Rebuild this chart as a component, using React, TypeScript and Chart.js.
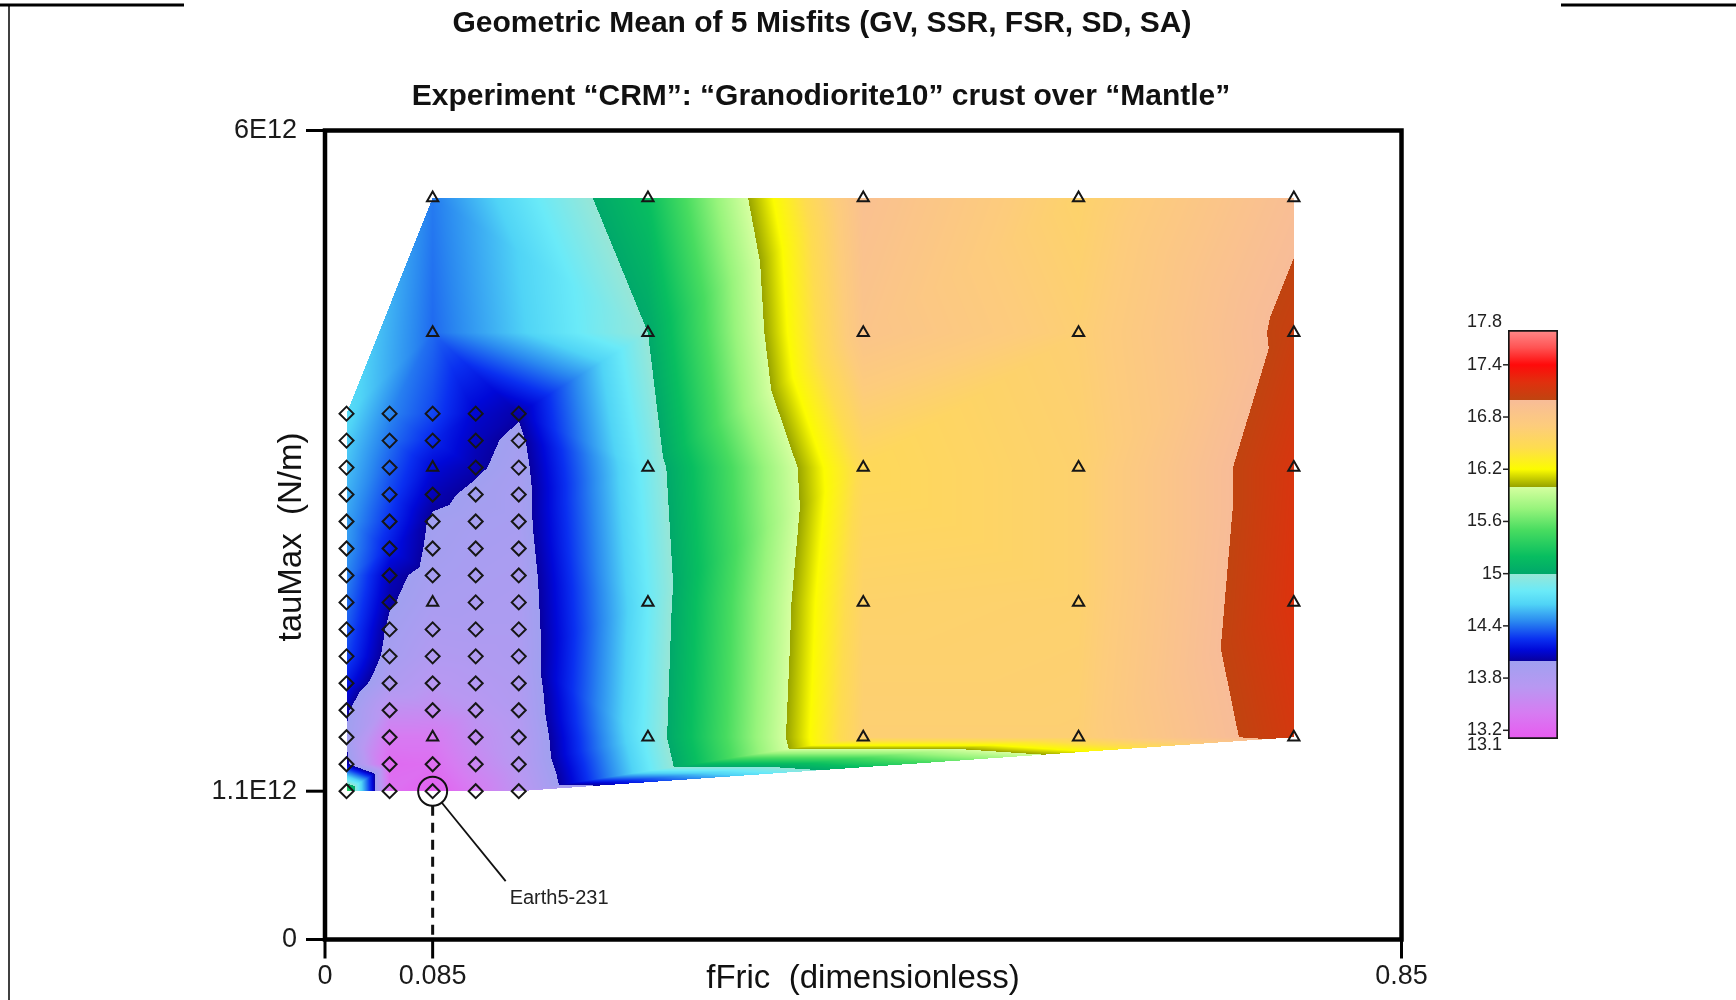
import React, { useEffect, useRef } from "react";
import { Chart, registerables } from "chart.js";

Chart.register(...registerables);

// ---------------- text ----------------
const TITLE = "Geometric Mean of 5 Misfits (GV, SSR, FSR, SD, SA)";
const SUBTITLE = "Experiment \u201CCRM\u201D: \u201CGranodiorite10\u201D crust over \u201CMantle\u201D";
const X_TITLE = "fFric  (dimensionless)";
const Y_TITLE = "tauMax  (N/m)";
const BEST_LABEL = "Earth5-231";

// ---------------- data ----------------
// fine grid (diamonds)
const fineFric = [0.017, 0.051, 0.085, 0.119, 0.153];
const fineTau = [3.9e12, 3.7e12, 3.5e12, 3.3e12, 3.1e12, 2.9e12, 2.7e12, 2.5e12, 2.3e12, 2.1e12, 1.9e12, 1.7e12, 1.5e12, 1.3e12, 1.1e12];
const fineMisfit = [
  [14.7, 14.45, 14.3, 14.1, 14.02],
  [14.64, 14.4, 14.22, 14.06, 13.95],
  [14.6, 14.35, 14.12, 14.03, 13.92],
  [14.56, 14.3, 14.05, 13.96, 13.9],
  [14.52, 14.25, 13.97, 13.92, 13.9],
  [14.5, 14.18, 13.95, 13.9, 13.88],
  [14.45, 14.06, 13.92, 13.88, 13.86],
  [14.4, 14.02, 13.88, 13.86, 13.85],
  [14.35, 13.96, 13.83, 13.84, 13.84],
  [14.3, 13.92, 13.78, 13.8, 13.83],
  [14.18, 13.82, 13.7, 13.75, 13.8],
  [14.03, 13.6, 13.58, 13.68, 13.78],
  [13.98, 13.38, 13.38, 13.6, 13.74],
  [14.05, 13.25, 13.28, 13.52, 13.72],
  [15.4, 13.3, 13.15, 13.4, 13.65],
];
// coarse grid (triangles)
const coarseFric = [0.085, 0.255, 0.425, 0.595, 0.765];
const coarseTau = [5.5e12, 4.5e12, 3.5e12, 2.5e12, 1.5e12];
const coarseMisfit = [
  [14.42, 15.2, 16.92, 16.6, 16.96],
  [14.38, 15.0, 16.85, 16.65, 17.05],
  [14.12, 14.86, 16.5, 16.62, 17.15],
  [13.88, 14.8, 16.6, 16.62, 17.18],
  [13.38, 14.84, 16.65, 16.65, 17.12],
];

const bestFric = 0.085;
const bestTau = 1.1e12;

// axes
const xMin = 0, xMax = 0.85;
const yMin = 0, yMax = 6e12;
const xTicks = [0, 0.085, 0.85];
const xTickLabels = ["0", "0.085", "0.85"];
const yTicks = [0, 1.1e12, 6e12];
const yTickLabels = ["0", "1.1E12", "6E12"];

// colour scale
const cbMin = 13.1, cbMax = 17.8;
const cbTicks = [17.8, 17.4, 16.8, 16.2, 15.6, 15, 14.4, 13.8, 13.2, 13.1];
const cbTickLabels = ["17.8", "17.4", "16.8", "16.2", "15.6", "15", "14.4", "13.8", "13.2", "13.1"];
const bandStops: [number, string][][] = [
  [[13.1, "#e85af0"], [13.4, "#d67cf2"], [13.7, "#b898f2"], [14.0, "#a0a0f0"]],
  [[14.0, "#0800a0"], [14.12, "#0008d8"], [14.25, "#0a30f0"], [14.45, "#2a88f0"], [14.65, "#50d4f6"], [14.8, "#6aeaf8"], [15.0, "#98e6d6"]],
  [[15.0, "#00a86a"], [15.2, "#08be60"], [15.5, "#48dc60"], [15.75, "#98f47c"], [16.0, "#d6ffa0"]],
  [[16.0, "#98a400"], [16.2, "#fcfc00"], [16.45, "#fedc50"], [16.7, "#fdcc7c"], [17.0, "#f8bc98"]],
  [[17.0, "#c04410"], [17.2, "#e0300e"], [17.4, "#ff0a0a"], [17.6, "#ff5454"], [17.8, "#ff8a8a"]],
];

const FONT = '"Liberation Sans", Arial, Helvetica, sans-serif';

// ---------------- helpers ----------------
function hexRgb(h: string): number[] {
  return [parseInt(h.slice(1, 3), 16), parseInt(h.slice(3, 5), 16), parseInt(h.slice(5, 7), 16)];
}
const parsedBands = bandStops.map((b) => b.map(([v, c]) => ({ v, rgb: hexRgb(c) })));

function colorFor(v: number): number[] {
  let bi = 0;
  for (let i = 0; i < parsedBands.length; i++) {
    const b = parsedBands[i];
    if (v >= b[0].v) bi = i;
  }
  const band = parsedBands[bi];
  if (v <= band[0].v) return band[0].rgb;
  if (v >= band[band.length - 1].v) return band[band.length - 1].rgb;
  for (let i = 0; i < band.length - 1; i++) {
    const a = band[i], b = band[i + 1];
    if (v >= a.v && v <= b.v) {
      const t = (v - a.v) / (b.v - a.v);
      return [0, 1, 2].map((k) => a.rgb[k] + (b.rgb[k] - a.rgb[k]) * t);
    }
  }
  return band[band.length - 1].rgb;
}

type Pt = { x: number; y: number; v: number };

function allFieldPoints(): Pt[] {
  const pts: Pt[] = [];
  fineTau.forEach((t, r) => fineFric.forEach((f, c) => pts.push({ x: f, y: t, v: fineMisfit[r][c] })));
  coarseTau.forEach((t, r) =>
    coarseFric.forEach((f, c) => {
      const dup = pts.some((p) => Math.abs(p.x - f) < 1e-9 && Math.abs(p.y - t) < 1e3);
      if (!dup) pts.push({ x: f, y: t, v: coarseMisfit[r][c] });
    })
  );
  return pts;
}

function isCoarse(f: number, t: number) {
  return coarseFric.some((cf) => Math.abs(cf - f) < 1e-9) && coarseTau.some((ct) => Math.abs(ct - t) < 1e3);
}

function triangulate(pts: number[][]): number[][] {
  const n = pts.length;
  let minX = Infinity, minY = Infinity, maxX = -Infinity, maxY = -Infinity;
  pts.forEach(([x, y]) => {
    minX = Math.min(minX, x); maxX = Math.max(maxX, x);
    minY = Math.min(minY, y); maxY = Math.max(maxY, y);
  });
  const dm = Math.max(maxX - minX, maxY - minY);
  const mx = (minX + maxX) / 2, my = (minY + maxY) / 2;
  const P = pts.slice();
  P.push([mx - 50 * dm, my - 30 * dm], [mx, my + 50 * dm], [mx + 50 * dm, my - 30 * dm]);
  const mk = (a: number, b: number, c: number) => {
    const [ax, ay] = P[a], [bx, by] = P[b], [cx, cy] = P[c];
    const d = 2 * (ax * (by - cy) + bx * (cy - ay) + cx * (ay - by));
    const a2 = ax * ax + ay * ay, b2 = bx * bx + by * by, c2 = cx * cx + cy * cy;
    const ux = (a2 * (by - cy) + b2 * (cy - ay) + c2 * (ay - by)) / d;
    const uy = (a2 * (cx - bx) + b2 * (ax - cx) + c2 * (bx - ax)) / d;
    return { a, b, c, cx: ux, cy: uy, r2: (ax - ux) ** 2 + (ay - uy) ** 2 };
  };
  let tris = [mk(n, n + 1, n + 2)];
  for (let i = 0; i < n; i++) {
    const [px, py] = P[i];
    const bad: any[] = [], keep: any[] = [];
    for (const t of tris) {
      const dx = px - t.cx, dy = py - t.cy;
      (dx * dx + dy * dy < t.r2 ? bad : keep).push(t);
    }
    const edges = new Map<string, [number, number]>();
    for (const t of bad) {
      for (const [u, w] of [[t.a, t.b], [t.b, t.c], [t.c, t.a]]) {
        const key = u < w ? u + "," + w : w + "," + u;
        if (edges.has(key)) edges.delete(key);
        else edges.set(key, [u, w]);
      }
    }
    tris = keep;
    edges.forEach(([u, w]) => tris.push(mk(u, w, i)));
  }
  return tris.filter((t) => t.a < n && t.b < n && t.c < n).map((t) => [t.a, t.b, t.c]);
}

// ---------------- plugins ----------------
const fieldPlugin = {
  id: "misfitField",
  beforeDatasetsDraw(chart: any) {
    const { ctx, scales } = chart;
    const xs = scales.x, ys = scales.y;
    const pts = allFieldPoints();
    const pix = pts.map((p) => [xs.getPixelForValue(p.x), ys.getPixelForValue(p.y)]);
    // tiny deterministic offsets only to break co-circular ties in the triangulation
    const triPts = pix.map(([x, y], i) => [x + (((i * 37) % 11) - 5) * 1e-3, y + (((i * 53) % 13) - 6) * 1e-3]);
    const tris = triangulate(triPts);
    let x0 = Infinity, y0 = Infinity, x1 = -Infinity, y1 = -Infinity;
    pix.forEach(([x, y]) => {
      x0 = Math.min(x0, x); x1 = Math.max(x1, x);
      y0 = Math.min(y0, y); y1 = Math.max(y1, y);
    });
    const bx = Math.floor(x0) - 1, by = Math.floor(y0) - 1;
    const W = Math.ceil(x1) - bx + 2, H = Math.ceil(y1) - by + 2;
    const img = ctx.createImageData(W, H);
    const data = img.data;
    for (const [ia, ib, ic] of tris) {
      const [ax, ay] = pix[ia], [bX, bY] = pix[ib], [cX, cY] = pix[ic];
      const va = pts[ia].v, vb = pts[ib].v, vc = pts[ic].v;
      const det = (bY - cY) * (ax - cX) + (cX - bX) * (ay - cY);
      if (Math.abs(det) < 1e-9) continue;
      const minx = Math.floor(Math.min(ax, bX, cX)), maxx = Math.ceil(Math.max(ax, bX, cX));
      const miny = Math.floor(Math.min(ay, bY, cY)), maxy = Math.ceil(Math.max(ay, bY, cY));
      for (let yy = miny; yy <= maxy; yy++) {
        const sy = yy + 0.5;
        for (let xx = minx; xx <= maxx; xx++) {
          const sx = xx + 0.5;
          const l1 = ((bY - cY) * (sx - cX) + (cX - bX) * (sy - cY)) / det;
          const l2 = ((cY - ay) * (sx - cX) + (ax - cX) * (sy - cY)) / det;
          const l3 = 1 - l1 - l2;
          if (l1 < -1e-6 || l2 < -1e-6 || l3 < -1e-6) continue;
          const v = l1 * va + l2 * vb + l3 * vc;
          const col = colorFor(v);
          const px = xx - bx, py = yy - by;
          if (px < 0 || py < 0 || px >= W || py >= H) continue;
          const o = (py * W + px) * 4;
          data[o] = col[0]; data[o + 1] = col[1]; data[o + 2] = col[2]; data[o + 3] = 255;
        }
      }
    }
    const off = document.createElement("canvas");
    off.width = W; off.height = H;
    off.getContext("2d")!.putImageData(img, 0, 0);
    ctx.drawImage(off, bx, by);
  },
};

const decorPlugin = {
  id: "decor",
  afterDraw(chart: any) {
    const { ctx, chartArea: a, scales } = chart;
    const xs = scales.x, ys = scales.y;
    const line = (x1: number, y1: number, x2: number, y2: number) => {
      ctx.beginPath(); ctx.moveTo(x1, y1); ctx.lineTo(x2, y2); ctx.stroke();
    };
    ctx.save();
    // page border bits
    ctx.strokeStyle = "#000";
    ctx.lineWidth = 3;
    line(0, 5, 184, 5);
    line(1561, 5, 1736, 5);
    ctx.lineWidth = 1.5;
    line(9, 5, 9, 1000);

    // titles
    ctx.fillStyle = "#111";
    ctx.textAlign = "center";
    ctx.textBaseline = "middle";
    ctx.font = `bold 30px ${FONT}`;
    ctx.fillText(TITLE, 822, 24);
    ctx.fillText(SUBTITLE, 821, 97);

    // frame
    ctx.strokeStyle = "#000";
    ctx.lineWidth = 4.5;
    ctx.strokeRect(a.left, a.top, a.right - a.left, a.bottom - a.top);

    // y ticks
    ctx.lineWidth = 3;
    ctx.font = `27px ${FONT}`;
    ctx.fillStyle = "#1a1a1a";
    ctx.textAlign = "right";
    yTicks.forEach((v, i) => {
      const py = ys.getPixelForValue(v);
      line(a.left - 19, py, a.left, py);
      ctx.fillText(yTickLabels[i], a.left - 28, py);
    });
    // x ticks
    ctx.textAlign = "center";
    xTicks.forEach((v, i) => {
      const px = xs.getPixelForValue(v);
      line(px, a.bottom, px, a.bottom + 19);
      ctx.fillText(xTickLabels[i], px, a.bottom + 37);
    });

    // axis titles
    ctx.font = `33px ${FONT}`;
    ctx.fillStyle = "#111";
    ctx.fillText(X_TITLE, 863, 979);
    ctx.save();
    ctx.translate(292, 537);
    ctx.rotate(-Math.PI / 2);
    ctx.fillText(Y_TITLE, 0, 0);
    ctx.restore();

    // best-fit annotation
    const bx = xs.getPixelForValue(bestFric), by = ys.getPixelForValue(bestTau);
    const r = 14.5;
    ctx.strokeStyle = "#111";
    ctx.lineWidth = 2;
    ctx.beginPath();
    ctx.arc(bx, by, r, 0, Math.PI * 2);
    ctx.stroke();
    ctx.lineWidth = 1.8;
    line(bx + 9, by + 11.3, bx + 73, by + 90);
    ctx.lineWidth = 3;
    ctx.setLineDash([10, 7]);
    line(bx, by + r, bx, a.bottom);
    ctx.setLineDash([]);
    ctx.font = `20px ${FONT}`;
    ctx.textAlign = "left";
    ctx.fillStyle = "#222";
    ctx.fillText(BEST_LABEL, bx + 77, by + 107);
    ctx.restore();
  },
};

function cbGradient(chart: any) {
  const { ctx, chartArea, scales } = chart;
  if (!chartArea || !scales || !scales.y) return "#cccccc";
  const y0 = scales.y.getPixelForValue(cbMin), y1 = scales.y.getPixelForValue(cbMax);
  const g = ctx.createLinearGradient(0, y0, 0, y1);
  bandStops.forEach((band) =>
    band.forEach(([v, c]) => g.addColorStop(Math.min(1, Math.max(0, (v - cbMin) / (cbMax - cbMin))), c))
  );
  return g;
}

const cbLabelPlugin = {
  id: "cbLabels",
  afterDraw(chart: any) {
    const { ctx, chartArea: a, scales } = chart;
    ctx.save();
    ctx.font = `18px ${FONT}`;
    ctx.fillStyle = "#222";
    ctx.strokeStyle = "#222";
    ctx.lineWidth = 1.5;
    ctx.textAlign = "right";
    ctx.textBaseline = "middle";
    cbTicks.forEach((v, i) => {
      const py = scales.y.getPixelForValue(v);
      let ly = py;
      if (v === cbMax) ly = py - 8;
      else if (v === cbMin) ly = py + 6;
      else {
        ctx.beginPath();
        ctx.moveTo(a.left - 5, py);
        ctx.lineTo(a.left, py);
        ctx.stroke();
      }
      ctx.fillText(cbTickLabels[i], a.left - 6, ly);
    });
    ctx.restore();
  },
};

// ---------------- component ----------------
export default function App() {
  const mainRef = useRef<HTMLCanvasElement>(null);
  const cbRef = useRef<HTMLCanvasElement>(null);

  useEffect(() => {
    const fineMarkers: { x: number; y: number }[] = [];
    fineTau.forEach((t) =>
      fineFric.forEach((f) => {
        if (!isCoarse(f, t)) fineMarkers.push({ x: f, y: t });
      })
    );
    const coarseMarkers: { x: number; y: number }[] = [];
    coarseTau.forEach((t) => coarseFric.forEach((f) => coarseMarkers.push({ x: f, y: t })));

    const main = new Chart(mainRef.current!, {
      type: "scatter",
      data: {
        datasets: [
          {
            label: "fine",
            data: fineMarkers,
            pointStyle: "rectRot",
            pointRadius: 7,
            pointBorderWidth: 2,
            pointBorderColor: "#161616",
            pointBackgroundColor: "rgba(0,0,0,0)",
            showLine: false,
          },
          {
            label: "coarse",
            data: coarseMarkers,
            pointStyle: "triangle",
            pointRadius: 6.5,
            pointBorderWidth: 2,
            pointBorderColor: "#161616",
            pointBackgroundColor: "rgba(0,0,0,0)",
            showLine: false,
          },
        ],
      },
      options: {
        animation: false,
        responsive: false,
        events: [],
        layout: { padding: { left: 325, right: 1736 - 1401.5, top: 130.5, bottom: 1000 - 939.5 } },
        plugins: { legend: { display: false }, tooltip: { enabled: false }, title: { display: false } },
        scales: {
          x: { type: "linear", min: xMin, max: xMax, display: false },
          y: { type: "linear", min: yMin, max: yMax, display: false },
        },
      } as any,
      plugins: [fieldPlugin, decorPlugin] as any,
    });

    const cb = new Chart(cbRef.current!, {
      type: "bar",
      data: {
        labels: [""],
        datasets: [
          {
            label: "misfit",
            data: [[cbMin, cbMax]] as any,
            backgroundColor: (c: any) => cbGradient(c.chart),
            borderColor: "#151515",
            borderWidth: 2,
            borderSkipped: false,
            barPercentage: 1,
            categoryPercentage: 1,
          },
        ],
      },
      options: {
        animation: false,
        responsive: false,
        events: [],
        layout: { padding: { left: 88, right: 62, top: 50, bottom: 41 } },
        plugins: { legend: { display: false }, tooltip: { enabled: false } },
        scales: {
          x: { display: false },
          y: { min: cbMin, max: cbMax, display: false },
        },
      } as any,
      plugins: [cbLabelPlugin] as any,
    });

    return () => {
      main.destroy();
      cb.destroy();
    };
  }, []);

  return (
    <div style={{ position: "absolute", left: 0, top: 0, width: 1736, height: 1000, background: "#fff", overflow: "hidden" }}>
      <canvas ref={mainRef} width={1736} height={1000} style={{ position: "absolute", left: 0, top: 0, width: 1736, height: 1000 }} />
      <canvas ref={cbRef} width={200} height={500} style={{ position: "absolute", left: 1420, top: 280, width: 200, height: 500 }} />
    </div>
  );
}
